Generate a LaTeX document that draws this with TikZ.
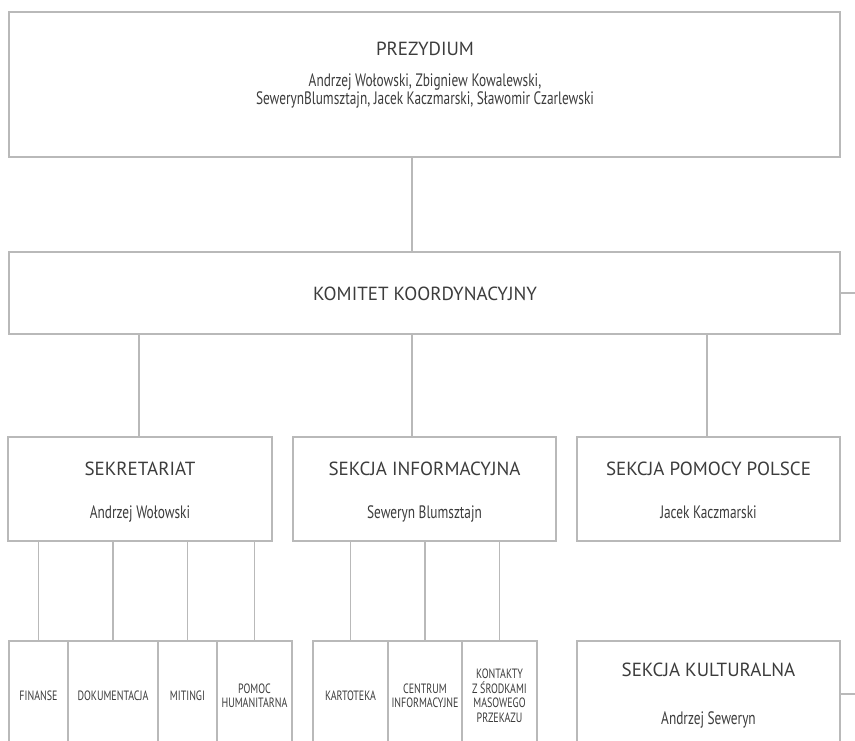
\documentclass[tikz,border=0pt]{standalone}
\usepackage{fontspec}
\setmainfont{PT Sans}
\newfontfamily\condfont{PT Sans}[FakeStretch=0.74]
\definecolor{linegray}{RGB}{185,185,185}
\definecolor{txt}{RGB}{60,60,60}
\begin{document}
\begin{tikzpicture}[x=1pt,y=-1pt,
  box/.style={draw=linegray,line width=1.2pt,rectangle,inner sep=0pt,outer sep=0pt},
  conn/.style={draw=linegray,line width=1.2pt},
  ttl/.style={text=txt,font=\fontsize{19}{22}\selectfont,anchor=base,inner sep=0pt},
  nm/.style={text=txt,font=\condfont\fontsize{18}{18}\selectfont,anchor=base,inner sep=0pt,align=center},
  sm/.style={text=txt,font=\condfont\fontsize{13.5}{14.5}\selectfont,align=center}]
\useasboundingbox (0,0) rectangle (855,741);
\clip (0,0) rectangle (855,741);
% main boxes
\node[box,minimum width=831pt,minimum height=145pt] (prez) at (424.5,84.5) {};
\node[box,minimum width=831pt,minimum height=82pt] (kom) at (424.5,293) {};
\node[box,minimum width=264pt,minimum height=104pt] (sek) at (140,489) {};
\node[box,minimum width=263pt,minimum height=104pt] (inf) at (424.5,489) {};
\node[box,minimum width=263pt,minimum height=104pt] (pom) at (708.5,489) {};
\node[box,minimum width=263pt,minimum height=110pt] (kul) at (708.5,696) {};
% texts
\node[ttl] (prezT) at (425,56) {PREZYDIUM};
\node[nm] (prezN) at (425,105) {Andrzej Wołowski, Zbigniew Kowalewski,\\SewerynBlumsztajn, Jacek Kaczmarski, Sławomir Czarlewski};
\node[ttl] (komT) at (425,300) {KOMITET KOORDYNACYJNY};
\node[ttl] (sekT) at (140,475) {SEKRETARIAT};
\node[nm] (sekN) at (140,518) {Andrzej Wołowski};
\node[ttl] (infT) at (424.5,475) {SEKCJA INFORMACYJNA};
\node[nm] (infN) at (424.5,518) {Seweryn Blumsztajn};
\node[ttl] (pomT) at (708.5,475) {SEKCJA POMOCY POLSCE};
\node[nm] (pomN) at (708.5,518) {Jacek Kaczmarski};
\node[ttl] (kulT) at (708.5,676) {SEKCJA KULTURALNA};
\node[nm] (kulN) at (708.5,724) {Andrzej Seweryn};
% small boxes
\node[box,sm,minimum width=59pt,minimum height=110pt] (fin) at (38.5,696) {FINANSE};
\node[box,sm,minimum width=90pt,minimum height=110pt] (dok) at (113,696) {DOKUMENTACJA};
\node[box,sm,minimum width=59pt,minimum height=110pt] (mit) at (187.5,696) {MITINGI};
\node[box,sm,minimum width=75pt,minimum height=110pt] (hum) at (254.5,696) {POMOC\\HUMANITARNA};
\node[box,sm,minimum width=75pt,minimum height=110pt] (kar) at (350.5,696) {KARTOTEKA};
\node[box,sm,minimum width=74pt,minimum height=110pt] (cen) at (425,696) {CENTRUM\\INFORMACYJNE};
\node[box,sm,minimum width=75pt,minimum height=110pt] (kon) at (499.5,696) {KONTAKTY\\Z ŚRODKAMI\\MASOWEGO\\PRZEKAZU};
% connectors
\coordinate (cA) at (412,0);
\coordinate (cB) at (139,0);
\coordinate (cC) at (707,0);
\coordinate (r1) at (855,293);
\coordinate (r2) at (855,694);
\draw[conn] (prez.south -| cA) -- (kom.north -| cA);
\draw[conn] (kom.south -| cA) -- (inf.north -| cA);
\draw[conn] (kom.south -| cB) -- (sek.north -| cB);
\draw[conn] (kom.south -| cC) -- (pom.north -| cC);
\draw[conn] (kom.east) -- (r1);
\draw[conn] (kul.east |- r2) -- (r2);
\foreach \c in {fin,dok,mit,hum}{\draw[conn] (\c.north |- sek.south) -- (\c.north);}
\foreach \c in {kar,cen,kon}{\draw[conn] (\c.north |- inf.south) -- (\c.north);}
\end{tikzpicture}
\end{document}
